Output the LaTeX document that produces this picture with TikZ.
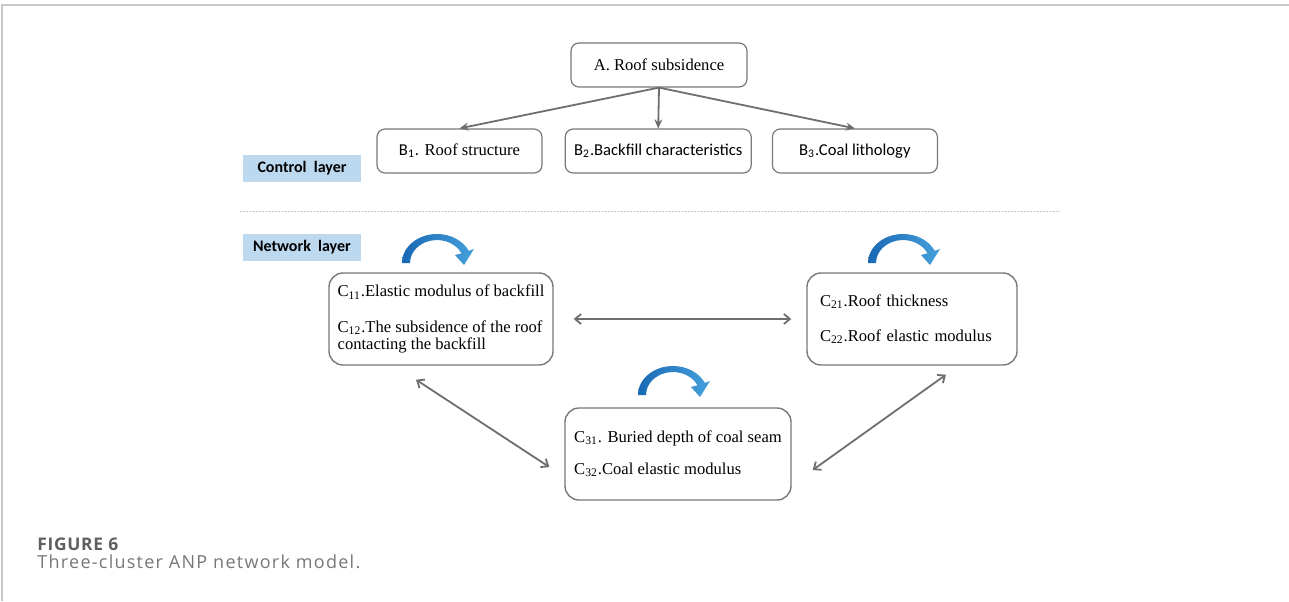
\documentclass[tikz,border=0pt]{standalone}
\usepackage{fontspec}
\setmainfont{Liberation Serif}
\newfontfamily\calibri{Carlito}
\newfontfamily\capfont{Open Sans}
\newfontfamily\capwide[LetterSpace=7]{Open Sans}
\newfontfamily\capbold[LetterSpace=4]{Open Sans}
\usetikzlibrary{arrows.meta, positioning}
\definecolor{LineGray}  {RGB}{110,110,110}
\definecolor{BoxGray}   {RGB}{120,120,120}
\definecolor{LayerBlue} {RGB}{189,217,240}
\definecolor{LoopDark}  {RGB}{25,105,180}
\definecolor{LoopLight} {RGB}{70,160,220}
\definecolor{CapGray}   {RGB}{95,95,95}
\definecolor{FrameGray} {RGB}{200,200,200}

\newcommand\loopArrow[1]{%
  \shade[left color=LoopDark, right color=LoopLight, shift={(#1)}]
    (-35,0) arc[start angle=180, end angle=25, x radius=17.5pt, y radius=14.5pt]
    -- (37,14) -- (27,-2) -- (18,8) -- (24.5,9.7)
    arc[start angle=25, end angle=180, x radius=13.5pt, y radius=11.5pt] -- cycle;}

\begin{document}
\begin{tikzpicture}[
  x=0.5pt, y=0.5pt,
  topbox/.style={draw=BoxGray, line width=0.6pt, rounded corners=4pt,
                 minimum height=22pt, inner sep=2pt,
                 font=\fontsize{8.3}{10}\selectfont},
  cbox/.style={draw=BoxGray, line width=0.7pt, rounded corners=7pt,
               minimum height=46pt, align=left, inner sep=3pt,
               font=\fontsize{8.3}{8.6}\selectfont},
  layer/.style={fill=LayerBlue, minimum width=59pt, minimum height=13.5pt,
                inner sep=0pt, font=\calibri\bfseries\fontsize{8}{9.6}\selectfont},
  arr/.style={-{Stealth[length=4.5pt, width=4pt]}, LineGray, line width=0.9pt},
  dbl/.style={{Straight Barb[length=3pt, width=5pt]}-{Straight Barb[length=3pt, width=5pt]},
              LineGray, line width=0.9pt}
]
  \useasboundingbox (0,0) rectangle (1289,-601);
  \draw[FrameGray, line width=1pt] (2,-601) -- (2,-5) -- (1289,-5);

  \node[topbox, minimum width=88pt] (a) at (659,-65) {A. Roof subsidence};
  \node[topbox, minimum width=82.5pt] (b1) at (459.5,-151) {{\calibri B\textsubscript{1}.} Roof structure};
  \node[topbox, minimum width=93pt, right=11pt of b1] (b2) {\calibri B\textsubscript{2}.Backfill characteristics};
  \node[topbox, minimum width=82.5pt, right=10pt of b2] (b3) {\calibri B\textsubscript{3}.Coal lithology};
  \draw[arr] (a.south) -- (b1.north);
  \draw[arr] (a.south) -- (b2.north);
  \draw[arr] (a.south) -- (b3.north);

  \node[layer] (ctrl) at (302,-168.5) {Control~ layer};
  \draw[FrameGray, dash pattern=on 1pt off 0.6pt, line width=0.5pt] (240,-211) -- (1060,-211);
  \node[layer] (net) at (302,-247.5) {Network~ layer};

  \node[cbox, minimum width=112pt] (c1) at (441,-319)
    {C\textsubscript{11}.Elastic modulus of backfill\\[9pt]C\textsubscript{12}.The subsidence of the roof\\contacting the backfill};
  \node[cbox, minimum width=105pt, text width=92pt] (c2) at (912,-319)
    {C\textsubscript{21}.Roof thickness\\[9pt]C\textsubscript{22}.Roof elastic modulus};
  \node[cbox, minimum width=113pt] (c3) at (678,-454)
    {C\textsubscript{31}. Buried depth of coal seam\\[7.5pt]C\textsubscript{32}.Coal elastic modulus};

  \draw[dbl] ([xshift=10pt]c1.east) -- ([xshift=-7.5pt]c2.west);
  \draw[dbl] ([shift={(-12.5pt,-7pt)}]c1.south) -- ([shift={(-7.5pt,-6.5pt)}]c3.west);
  \draw[dbl] ([shift={(17pt,-4.5pt)}]c2.south) -- ([shift={(10.5pt,-8pt)}]c3.east);

  \loopArrow{437,-263}
  \loopArrow{903,-263}
  \loopArrow{673,-395}

  \node[anchor=base west, inner sep=0pt, text=CapGray,
        font=\capbold\bfseries\fontsize{8.7}{10}\selectfont] (fig) at (37,-550) {FIGURE 6};
  \node[anchor=base west, inner sep=0pt, text=CapGray!85,
        font=\capwide\fontsize{9}{10}\selectfont] (cap) at (37,-568) {Three-cluster ANP network model.};
\end{tikzpicture}
\end{document}
